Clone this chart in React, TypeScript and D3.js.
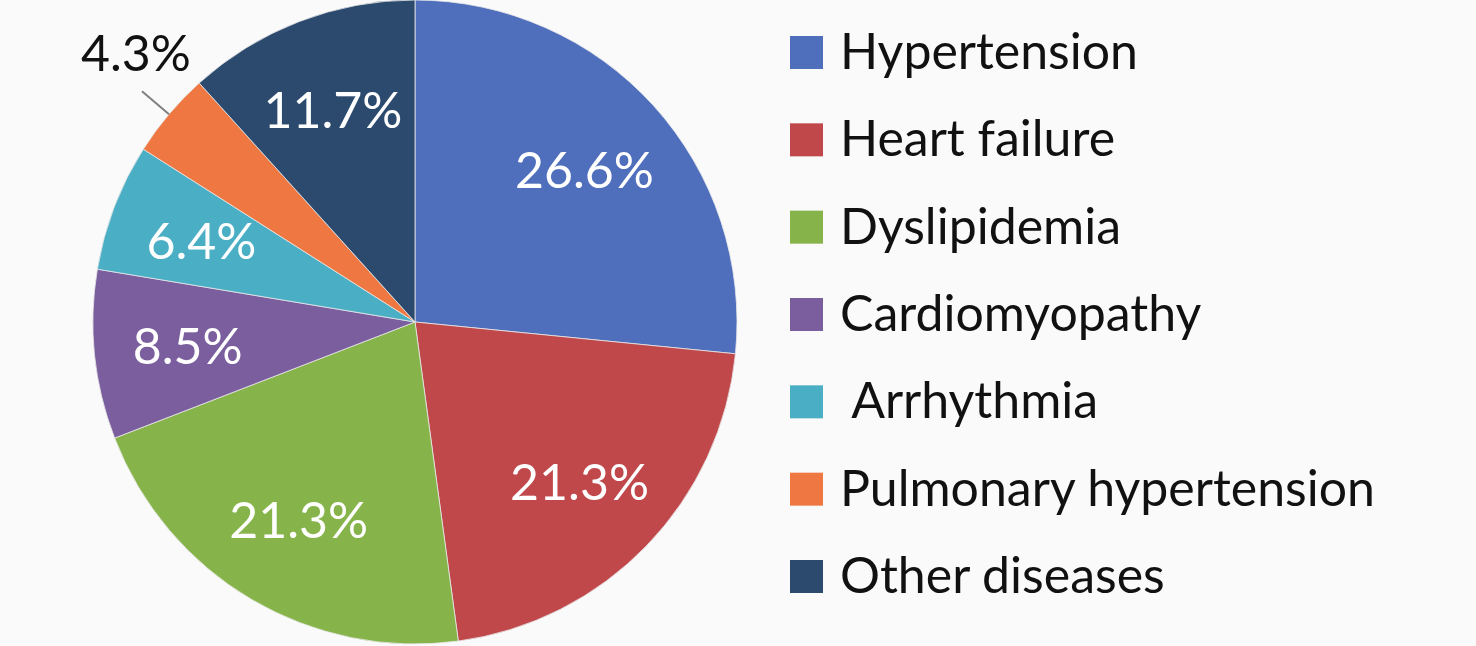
import { useEffect, useRef } from "react"
import * as d3 from "d3"

const categories = [
  "Hypertension",
  "Heart failure",
  "Dyslipidemia",
  "Cardiomyopathy",
  " Arrhythmia",
  "Pulmonary hypertension",
  "Other diseases",
]
const shares = [26.6, 21.3, 21.3, 8.5, 6.4, 4.3, 11.7]
const labels = ["26.6%", "21.3%", "21.3%", "8.5%", "6.4%", "4.3%", "11.7%"]
const colors = ["#4f6fbd", "#c0474a", "#86b44a", "#7a5e9e", "#4aaec4", "#ef7842", "#2b4a6e"]

const width = 1476
const height = 646

export default function App() {
  const svgRef = useRef<SVGSVGElement>(null)

  useEffect(() => {
    if (!svgRef.current) return
    const svg = d3.select(svgRef.current)
    svg.selectAll("*").remove()

    const cx = 415
    const cy = 322
    const r = 322

    svg.append("rect").attr("width", width).attr("height", height).attr("fill", "#fafafa")

    const pie = d3
      .pie<number>()
      .sort(null)
      .value((d) => d)
    const arcs = pie(shares)

    const arc = d3.arc<d3.PieArcDatum<number>>().innerRadius(0).outerRadius(r)
    const labelArc = d3.arc<d3.PieArcDatum<number>>().innerRadius(r * 0.71).outerRadius(r * 0.71)

    const g = svg.append("g").attr("transform", `translate(${cx},${cy})`)

    g.selectAll("path.slice")
      .data(arcs)
      .join("path")
      .attr("class", "slice")
      .attr("d", arc)
      .attr("fill", (_, i) => colors[i])
      .attr("stroke", "#e8e8e8")
      .attr("stroke-width", 0.8)

    const font = "Lato, 'Open Sans', sans-serif"
    const fontSize = 50

    // labels inside slices, small one gets a leader line
    arcs.forEach((a, i) => {
      const mid = (a.startAngle + a.endAngle) / 2
      if (shares[i] < 5) {
        const p = (k: number) => [Math.sin(mid) * r * k, -Math.cos(mid) * r * k]
        const [x1, y1] = p(1.0)
        const [x2, y2] = p(1.11)
        g.append("line")
          .attr("x1", x1)
          .attr("y1", y1)
          .attr("x2", x2)
          .attr("y2", y2)
          .attr("stroke", "#7f7f7f")
          .attr("stroke-width", 2)
        const [tx, ty] = p(1.2)
        g.append("text")
          .attr("x", tx + 16)
          .attr("y", ty - 21)
          .attr("text-anchor", "middle")
          .attr("dominant-baseline", "central")
          .attr("font-family", font)
          .attr("font-size", fontSize)
          .attr("fill", "#111")
          .text(labels[i])
      } else {
        const [x, y] = labelArc.centroid(a)
        g.append("text")
          .attr("x", x)
          .attr("y", y)
          .attr("text-anchor", "middle")
          .attr("dominant-baseline", "central")
          .attr("font-family", font)
          .attr("font-size", fontSize)
          .attr("fill", "#fff")
          .text(labels[i])
      }
    })

    // legend
    const ly = d3.scalePoint<string>().domain(categories).range([52, 576])
    const legend = svg
      .append("g")
      .selectAll("g")
      .data(categories)
      .join("g")
      .attr("transform", (d) => `translate(790,${ly(d)})`)

    legend
      .append("rect")
      .attr("x", 0)
      .attr("y", -16)
      .attr("width", 33)
      .attr("height", 33)
      .attr("fill", (_, i) => colors[i])

    legend
      .append("text")
      .attr("x", 50)
      .attr("y", -2)
      .attr("dominant-baseline", "central")
      .attr("font-family", font)
      .attr("font-size", fontSize)
      .attr("fill", "#111")
      .attr("xml:space", "preserve")
      .style("white-space", "pre")
      .text((d) => d)
  }, [])

  return (
    <div style={{ position: "fixed", left: 0, top: 0 }}>
      <svg ref={svgRef} width={width} height={height} style={{ display: "block" }} />
    </div>
  )
}
